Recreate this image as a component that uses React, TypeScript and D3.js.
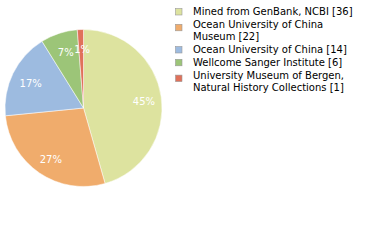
import React from "react";
import * as d3 from "d3";

const labels = [
  ["Mined from GenBank, NCBI [36]"],
  ["Ocean University of China", "Museum [22]"],
  ["Ocean University of China [14]"],
  ["Wellcome Sanger Institute [6]"],
  ["University Museum of Bergen,", "Natural History Collections [1]"],
];
const values = [36, 22, 14, 6, 1];
const colors = ["#dde39f", "#f0ac6c", "#9dbbe0", "#9cc578", "#e0715a"];

export default function App() {
  const cx = 83.5, cy = 108, r = 78.5;
  const total = d3.sum(values);
  const pie = d3.pie<number>().sort(null).value((d) => d);
  const arcs = pie(values);
  const arc = d3.arc<d3.PieArcDatum<number>>().innerRadius(0).outerRadius(r);
  const labelArc = d3.arc<d3.PieArcDatum<number>>().innerRadius(60).outerRadius(60);
  const font = "DejaVu Sans, Verdana, sans-serif";

  let y = 11.5;
  const legendRows: { lines: string[]; color: string; y: number }[] = [];
  labels.forEach((lines, i) => {
    legendRows.push({ lines, color: colors[i], y });
    y += lines.length * 12.4 + 0.4;
  });

  return (
    <svg width={380} height={240} style={{ position: "absolute", left: 0, top: 0 }}>
      <rect width={380} height={240} fill="#fff" />
      <g transform={`translate(${cx},${cy})`}>
        {arcs.map((a, i) => (
          <path key={i} d={arc(a) || ""} fill={colors[i]} stroke="#fff" strokeWidth={0.5} />
        ))}
        {arcs.map((a, i) => {
          const [x, yy] = labelArc.centroid(a);
          return (
            <text key={i} x={x + 1} y={yy + 1.5} dy="0.35em" textAnchor="middle" fill="#fff"
              fontFamily={font} fontSize={10}>
              {Math.floor((values[i] / total) * 100)}%
            </text>
          );
        })}
      </g>
      {legendRows.map((row, i) => (
        <g key={i}>
          <rect x={175.5} y={row.y - 3 + (row.lines.length - 1) * 3} width={6.5} height={6.5}
            fill={row.color} stroke="#999" strokeWidth={0.6} />
          {row.lines.map((l, j) => (
            <text key={j} x={193} y={row.y + j * 12.4} dy="0.35em" fontFamily={font}
              fontSize={10} fill="#000">{l}</text>
          ))}
        </g>
      ))}
    </svg>
  );
}
